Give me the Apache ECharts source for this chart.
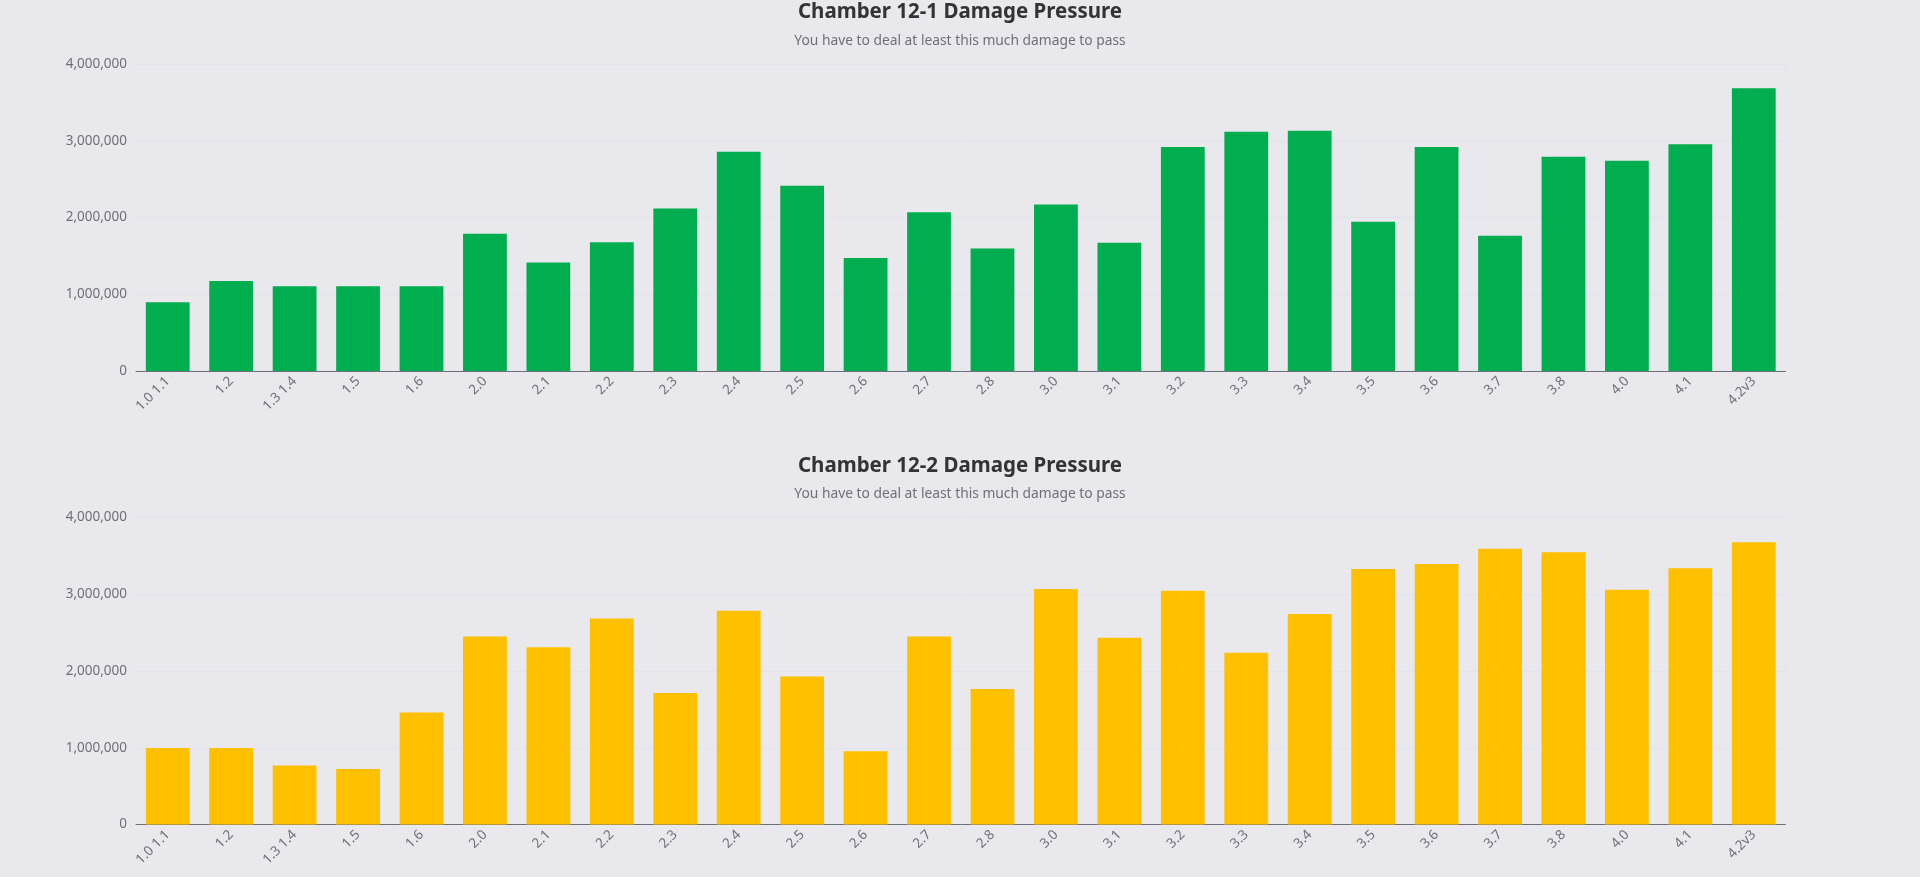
<!DOCTYPE html>
<html>
<head>
<meta charset="utf-8">
<script src="https://cdn.jsdelivr.net/npm/echarts@6/dist/echarts.min.js"></script>
<style>
html, body { margin: 0; padding: 0; width: 1920px; height: 877px; overflow: hidden; background: #e9e8ec; }
#chart { width: 1920px; height: 877px; }
</style>
</head>
<body>
<div id="chart"></div>
<script>
const categories = ['1.0 1.1', '1.2', '1.3 1.4', '1.5', '1.6', '2.0', '2.1', '2.2', '2.3', '2.4', '2.5', '2.6', '2.7', '2.8', '3.0', '3.1', '3.2', '3.3', '3.4', '3.5', '3.6', '3.7', '3.8', '4.0', '4.1', '4.2v3'];
const chamber1Values = [895000, 1172000, 1103000, 1103000, 1103000, 1788000, 1415000, 1676000, 2118000, 2856000, 2413000, 1471000, 2070000, 1597000, 2170000, 1671000, 2917000, 3116000, 3129000, 1944000, 2917000, 1762000, 2791000, 2739000, 2956000, 3685000];
const chamber2Values = [997000, 997000, 770000, 722000, 1458000, 2450000, 2311000, 2685000, 1714000, 2785000, 1928000, 953000, 2450000, 1767000, 3068000, 2433000, 3046000, 2237000, 2742000, 3329000, 3394000, 3594000, 3547000, 3059000, 3338000, 3677000];
const titles = ['Chamber 12-1 Damage Pressure', 'Chamber 12-2 Damage Pressure'];
const subtitle = 'You have to deal at least this much damage to pass';
const yMin = 0, yMax = 4000000, yInterval = 1000000;
const colors = ['#00ae4f', '#ffc000'];

const FONT = '"Noto Sans", sans-serif';
const chart = echarts.init(document.getElementById('chart'));
const offsets = [0, 453.5];

function fmt(v) { return String(v).replace(/\B(?=(\d{3})+(?!\d))/g, ','); }

const option = {
  animation: false,
  backgroundColor: 'transparent',
  textStyle: { fontFamily: FONT },
  title: titles.map((t, i) => ({
    text: t,
    subtext: subtitle,
    left: 'center',
    top: -3 + offsets[i],
    itemGap: 11,
    textStyle: { fontSize: 20.5, fontWeight: 'bold', color: '#333', fontFamily: FONT },
    subtextStyle: { fontSize: 13.8, color: '#6e7079', fontFamily: FONT }
  })),
  grid: offsets.map(o => ({ left: 136, right: 134.5, top: 64 + o, height: 307, containLabel: false })),
  xAxis: offsets.map((o, i) => ({
    type: 'category',
    gridIndex: i,
    data: categories,
    axisLine: { lineStyle: { color: '#6e7079' } },
    axisTick: { lineStyle: { color: '#6e7079' } },
    axisLabel: { rotate: 45, fontSize: 13.5, color: '#6e7079', interval: 0, margin: 8, fontFamily: FONT }
  })),
  yAxis: offsets.map((o, i) => ({
    type: 'value',
    gridIndex: i,
    min: yMin, max: yMax, interval: yInterval,
    axisLabel: { fontSize: 13.5, color: '#6e7079', margin: 9, formatter: fmt, fontFamily: FONT },
    splitLine: { lineStyle: { color: '#e0e3ee' } }
  })),
  series: [chamber1Values, chamber2Values].map((vals, i) => ({
    type: 'bar',
    xAxisIndex: i,
    yAxisIndex: i,
    data: vals,
    barWidth: '69%',
    itemStyle: { color: colors[i] }
  }))
};
chart.setOption(option);
</script>
</body>
</html>
